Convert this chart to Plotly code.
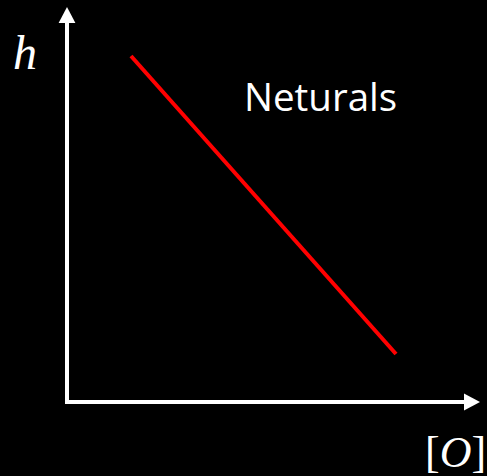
import plotly.graph_objects as go

# Data (conceptual units: origin at axes corner)
concentration_O = [1.6, 8.225]   # x: [O]
height_h = [8.65, 1.2]           # y: h
line_label = "Neturals"
x_label = "[<i>O</i>]"
y_label = "<i>h</i>"

fig = go.Figure()
fig.add_trace(go.Scatter(
    x=concentration_O, y=height_h, mode="lines",
    line=dict(color="#ff0000", width=4), showlegend=False, hoverinfo="skip"))

white = "#ffffff"
shapes = [
    # y axis shaft
    dict(type="line", x0=0, x1=0, y0=-0.05, y1=9.5, line=dict(color=white, width=4)),
    # x axis shaft
    dict(type="line", x0=-0.05, x1=9.95, y0=0, y1=0, line=dict(color=white, width=4)),
    # y arrowhead
    dict(type="path", path="M -0.21 9.475 L 0.21 9.475 L 0 9.875 Z",
         fillcolor=white, line=dict(color=white, width=0)),
    # x arrowhead
    dict(type="path", path="M 9.925 -0.21 L 9.925 0.21 L 10.325 0 Z",
         fillcolor=white, line=dict(color=white, width=0)),
]

annotations = [
    dict(x=-1.06, y=8.75, text=y_label, showarrow=False,
         font=dict(family="Liberation Serif, DejaVu Serif, serif", size=48, color=white)),
    dict(x=6.325, y=7.66, text=line_label, showarrow=False,
         font=dict(family="Open Sans, Noto Sans, sans-serif", size=38.5, color=white)),
    dict(x=10.5, y=-1.27, text=x_label, showarrow=False, xanchor="right",
         borderpad=0,
         font=dict(family="Liberation Serif, DejaVu Serif, serif", size=44, color=white)),
]

fig.update_layout(
    width=487, height=476,
    margin=dict(l=0, r=0, t=0, b=0),
    paper_bgcolor="#000000", plot_bgcolor="#000000",
    xaxis=dict(range=[-67/40, 420/40], visible=False, fixedrange=True),
    yaxis=dict(range=[-74/40, 402/40], visible=False, fixedrange=True),
    shapes=shapes, annotations=annotations,
)

fig.write_html("out.html",
               config={"displayModeBar": False},
               post_script="document.body.style.margin='0';document.body.style.background='#000';")
